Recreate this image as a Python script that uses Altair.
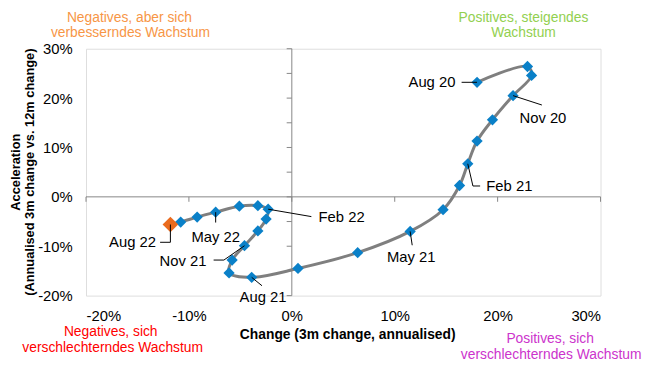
import altair as alt
import pandas as pd

# ---- data (percent) ----
months = ["Aug 20", "Sep 20", "Oct 20", "Nov 20", "Dec 20", "Jan 21", "Feb 21",
          "Mar 21", "Apr 21", "May 21", "Jun 21", "Jul 21", "Aug 21", "Sep 21",
          "Oct 21", "Nov 21", "Dec 21", "Jan 22", "Feb 22", "Mar 22", "Apr 22",
          "May 22", "Jun 22", "Jul 22", "Aug 22"]
change = [18.0, 22.9, 23.3, 21.5, 19.5, 18.0, 17.1, 16.3, 14.7, 11.5, 6.4, 0.6,
          -3.9, -6.1, -5.8, -4.6, -3.3, -2.5, -2.3, -3.3, -5.1, -7.4, -9.2, -10.8, -11.8]
accel = [23.2, 26.4, 24.6, 20.5, 15.6, 11.3, 6.7, 2.3, -2.6, -7.0, -11.3, -14.5,
         -16.3, -15.4, -12.8, -9.9, -6.9, -4.5, -2.5, -1.8, -1.9, -3.1, -4.1, -5.1, -5.6]

x_ticks = [-20, -10, 0, 10, 20, 30]
y_ticks = [-20, -15, -10, -5, 0, 5, 10, 15, 20, 25, 30]

x_title = "Change (3m change, annualised)"
y_title = ["Acceleration", "(Annualised 3m change vs. 12m change)"]

# labelled months, their text anchor (data units), alignment, and leader elbows
label_months = ["Aug 20", "Nov 20", "Feb 21", "May 21", "Aug 21", "Nov 21", "Feb 22", "May 22", "Aug 22"]
label_pos = [(15.9, 23.2, "right"), (24.4, 16.0, "center"), (18.9, 2.2, "left"),
             (11.6, -12.2, "center"), (-2.8, -20.2, "center"), (-8.3, -13.0, "right"),
             (2.6, -4.0, "left"), (-7.4, -8.2, "center"), (-13.2, -9.2, "right")]
leader_elbows = [[(16.5, 23.2)], [(24.3, 18.6)], [(17.6, 2.2), (18.3, 2.2)],
                 [(11.7, -9.8)], [(-2.9, -18.0)], [(-6.6, -12.8), (-7.6, -12.8)],
                 [(1.9, -4.0)], [(-7.4, -5.2)], [(-11.8, -9.2), (-12.8, -9.2)]]

FONT = "Liberation Sans"
W, H = 521, 250

df = pd.DataFrame({"month": months, "change": change, "accel": accel,
                   "order": list(range(len(months)))})
df["last"] = df["order"] == len(months) - 1

xs = alt.Scale(domain=[-20, 30], nice=False, zero=False)
ys = alt.Scale(domain=[-20, 30], nice=False, zero=False)

x_axis = alt.Axis(values=x_ticks, labelExpr="datum.value + '%'", domain=False, ticks=False,
                  tickSize=0, grid=False, title=None, labelPadding=13, labelFontSize=15,
                  labelFont=FONT, labelColor="black")
y_axis = alt.Axis(values=y_ticks, labelExpr="datum.value + '%'", domain=False, ticks=False,
                  tickSize=0, grid=False, title=None, labelPadding=14, labelFontSize=15,
                  labelFont=FONT, labelColor="black")

base = alt.Chart(df)

line = base.mark_line(color="#7F7F7F", strokeWidth=3, interpolate="catmull-rom").encode(
    x=alt.X("change:Q", scale=xs, axis=x_axis),
    y=alt.Y("accel:Q", scale=ys, axis=y_axis),
    order="order:Q",
)

blue = base.transform_filter("!datum.last").mark_point(
    shape="diamond", filled=True, size=130, color="#0A80C8", opacity=1).encode(
    x="change:Q", y="accel:Q")
orange = base.transform_filter("datum.last").mark_point(
    shape="diamond", filled=True, size=250, color="#EA6B1E", opacity=1).encode(
    x="change:Q", y="accel:Q")

# axis lines crossing at origin + ticks
axis_df = pd.DataFrame({"x": [-20, 0], "y": [0, -20], "x2": [30, 0], "y2": [0, 30]})
axes = alt.Chart(axis_df).mark_rule(color="#868686", strokeWidth=1).encode(
    x="x:Q", y="y:Q", x2="x2:Q", y2="y2:Q")
xt_df = pd.DataFrame({"x": x_ticks, "y": [0] * len(x_ticks), "y2": [-1.0] * len(x_ticks)})
xt = alt.Chart(xt_df).mark_rule(color="#868686", strokeWidth=1).encode(
    x="x:Q", y="y:Q", y2="y2:Q")
yt_df = pd.DataFrame({"y": y_ticks, "x": [0] * len(y_ticks), "x2": [-0.5] * len(y_ticks)})
yt = alt.Chart(yt_df).mark_rule(color="#868686", strokeWidth=1).encode(
    y="y:Q", x="x:Q", x2="x2:Q")

# leaders and labels
lookup = {m: (c, a) for m, c, a in zip(months, change, accel)}
segs = []
for m, elbows in zip(label_months, leader_elbows):
    pts = [lookup[m]] + elbows
    for (x1, y1), (x2, y2) in zip(pts[:-1], pts[1:]):
        segs.append({"x": x1, "y": y1, "x2": x2, "y2": y2})
leaders = alt.Chart(pd.DataFrame(segs)).mark_rule(color="black", strokeWidth=1).encode(
    x="x:Q", y="y:Q", x2="x2:Q", y2="y2:Q")

label_layers = []
for m, (lx, ly, al) in zip(label_months, label_pos):
    ldf = pd.DataFrame({"t": [m], "x": [lx], "y": [ly]})
    label_layers.append(alt.Chart(ldf).mark_text(
        align=al, baseline="middle", fontSize=15, font=FONT, color="black").encode(
        x="x:Q", y="y:Q", text="t:N"))


def txt(text, px, py, color, size=14, bold=False, angle=0):
    return alt.Chart(pd.DataFrame({"t": [text]})).mark_text(
        align="center", baseline="middle", fontSize=size, font=FONT, color=color,
        fontWeight="bold" if bold else "normal", angle=angle).encode(
        x=alt.value(px), y=alt.value(py), text="t:N")


quad = [
    txt("Negatives, aber sich", 44, -31, "#F79646"),
    txt("verbesserndes Wachstum", 45, -16, "#F79646"),
    txt("Positives, steigendes", 443, -31, "#92D050"),
    txt("Wachstum", 443, -16, "#92D050"),
    txt("Negatives, sich", 25, 287, "#FF0000"),
    txt("verschlechterndes Wachstum", 27, 303, "#FF0000"),
    txt("Positives, sich", 470, 294, "#CC33CC"),
    txt("verschlechterndes Wachstum", 471, 310, "#CC33CC"),
    txt(x_title, 265, 290, "black", 14, True),
    txt(y_title[0], -71, 125, "black", 13, True, 270),
    txt(y_title[1], -57, 125, "black", 13, True, 270),
]

chart = alt.layer(axes, xt, yt, line, blue, orange, leaders, *label_layers, *quad).properties(
    width=W, height=H,
    autosize=alt.AutoSizeParams(type="none"),
    padding={"left": 79, "top": 39, "right": 42, "bottom": 66},
).configure_view(stroke=None).configure(background="white")

chart.save("out.html", embed_options={"renderer": "svg", "actions": False})
